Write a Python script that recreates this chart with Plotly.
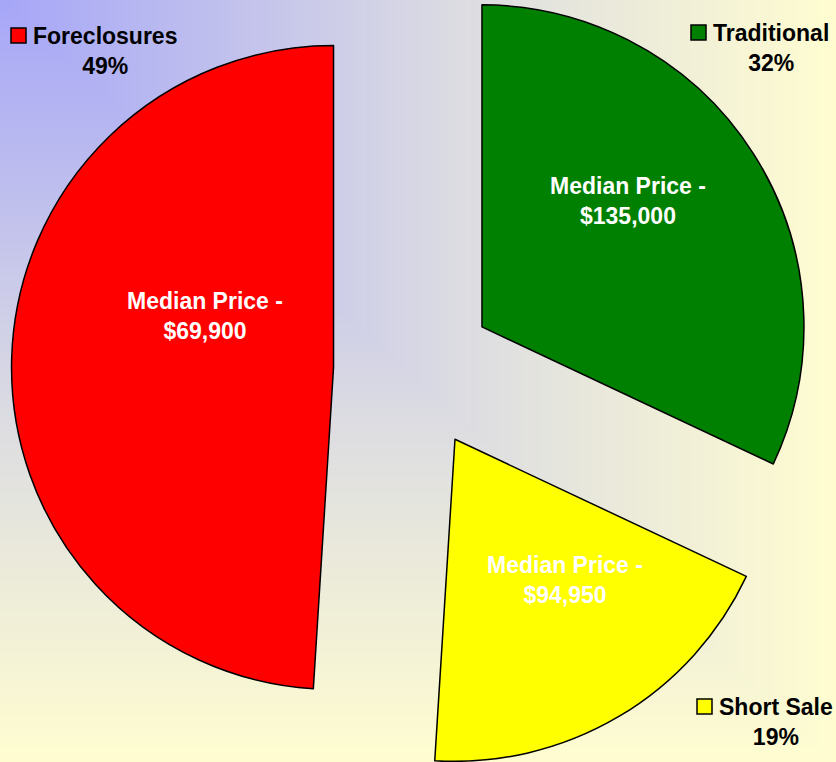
import numpy as np
import plotly.graph_objects as go

# data
categories = ["Traditional", "Short Sale", "Foreclosures"]
shares = [32, 19, 49]
median_prices = [135000, 94950, 69900]
slice_colors = ["#008000", "#FFFF00", "#FF0000"]

W, H = 836, 762
CX, CY, R = 414, 370, 322   # pie centre and radius in px
PULL = 0.25                 # explode distance as fraction of radius

# label placement in px (centre of text blocks) and legend-key squares
outside_xy = [(771, 47.5), (776, 722), (104.5, 50.5)]
key_xy = [(691, 25), (697, 699), (11, 28)]
inside_xy = [(628, 200.5), (565, 580), (205, 315.5)]

FONT = "Arial, Liberation Sans, sans-serif"

fig = go.Figure()

# background "from corner" gradient
gx = np.linspace(0, W, 120)
gy = np.linspace(0, H, 120)
gz = np.maximum(gx[None, :] / W, gy[:, None] / H)
fig.add_trace(go.Heatmap(
    x=gx, y=gy, z=gz,
    colorscale=[[0, "#A6A6F8"], [0.55, "#DCDCE2"], [1, "#FFFDD0"]],
    zsmooth="best", showscale=False, hoverinfo="skip"
))

# exploded pie: one trace per slice, other slices transparent
total = sum(shares)
cum = 0
for i, share in enumerate(shares):
    mid = 2 * np.pi * (cum + share / 2) / total
    cum += share
    ax = CX + PULL * R * np.sin(mid)
    ay = CY - PULL * R * np.cos(mid)
    dx = [max(0, (ax - R) / W), min(1, (ax + R) / W)]
    dy = [max(0, 1 - (ay + R) / H), min(1, 1 - (ay - R) / H)]
    fig.add_trace(go.Pie(
        labels=categories,
        values=shares,
        sort=False,
        direction="clockwise",
        rotation=0,
        domain=dict(x=dx, y=dy),
        marker=dict(
            colors=[c if j == i else "rgba(0,0,0,0)" for j, c in enumerate(slice_colors)],
            line=dict(color="black", width=[1.5 if j == i else 0 for j in range(len(shares))])
        ),
        textinfo="none",
        hoverinfo="skip",
        showlegend=False
    ))

annotations = []
shapes = []
for i, cat in enumerate(categories):
    pct = round(100 * shares[i] / total)
    ox, oy = outside_xy[i]
    annotations.append(dict(
        x=ox, y=oy, xref="x", yref="y",
        text=f"{cat}<br>{pct}%", showarrow=False,
        font=dict(family=FONT, size=23, color="black", weight="bold"),
        xanchor="center", yanchor="middle"
    ))
    kx, ky = key_xy[i]
    shapes.append(dict(
        type="rect", xref="x", yref="y",
        x0=kx, x1=kx + 15, y0=ky, y1=ky + 15,
        fillcolor=slice_colors[i], line=dict(color="black", width=1.5)
    ))
    ix, iy = inside_xy[i]
    annotations.append(dict(
        x=ix, y=iy, xref="x", yref="y",
        text=f"Median Price -<br>${median_prices[i]:,}", showarrow=False,
        font=dict(family=FONT, size=23, color="white", weight="bold"),
        xanchor="center", yanchor="middle"
    ))

fig.update_layout(
    width=W, height=H,
    margin=dict(l=0, r=0, t=0, b=0),
    paper_bgcolor="#FFFDD0",
    plot_bgcolor="#FFFDD0",
    xaxis=dict(range=[0, W], visible=False, domain=[0, 1]),
    yaxis=dict(range=[H, 0], visible=False, domain=[0, 1]),
    annotations=annotations,
    shapes=shapes,
    showlegend=False
)

fig.write_html("out.html", config={"displayModeBar": False},
               post_script="document.body.style.margin='0';")
